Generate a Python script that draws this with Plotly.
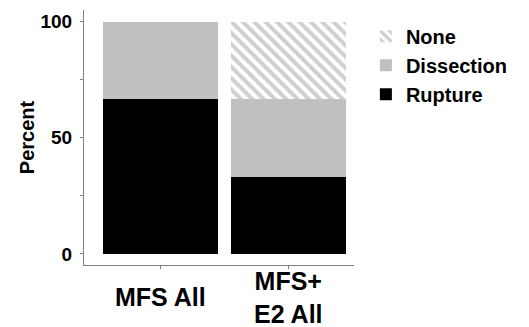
import plotly.graph_objects as go

categories = ["MFS All", "MFS+<br>E2 All"]
rupture = [66.7, 33.3]
dissection = [33.3, 33.3]
none_vals = [0, 33.4]
y_ticks = [0, 50, 100]

FONT = "Liberation Sans, Arial, sans-serif"

fig = go.Figure()
fig.add_trace(go.Bar(x=categories, y=rupture, name="<b>Rupture</b>",
                     marker=dict(color="#000000", line=dict(width=0))))
fig.add_trace(go.Bar(x=categories, y=dissection, name="<b>Dissection</b>",
                     marker=dict(color="#c0c0c0", line=dict(width=0))))
fig.add_trace(go.Bar(x=categories, y=none_vals, name="<b>None</b>",
                     marker=dict(color="#ffffff", line=dict(width=0),
                                 pattern=dict(shape="\\", fgcolor="#a0a0a0",
                                              bgcolor="#ffffff", size=8,
                                              solidity=0.5))))

for c in categories:
    fig.add_annotation(x=c, xref="x", y=-0.127, yref="paper", text="<b>%s</b>" % c,
                       showarrow=False, yanchor="middle", xanchor="center",
                       font=dict(family=FONT, size=25, color="black"))

fig.update_layout(
    width=521, height=319,
    margin=dict(l=76, r=175, t=2, b=62),
    barmode="stack", bargap=0.102,
    plot_bgcolor="white", paper_bgcolor="white",
    font=dict(family=FONT, color="black"),
    showlegend=True,
    legend=dict(x=1.044, y=0.974, xanchor="left", yanchor="top",
                traceorder="reversed", tracegroupgap=0,
                font=dict(family=FONT, size=20, color="black"),
                itemwidth=30),
)
fig.update_xaxes(range=[-0.598, 1.512], showline=True, linecolor="#808080", linewidth=1,
                 ticks="outside", ticklen=3, tickcolor="#808080", showticklabels=False,
                 showgrid=False, zeroline=False, fixedrange=True, automargin=False)
fig.update_yaxes(range=[-4.8, 105], showline=True, linecolor="#808080", linewidth=1,
                 tickvals=y_ticks, ticktext=["<b>%d</b>" % v for v in y_ticks],
                 ticks="outside", ticklen=3, tickcolor="#808080", ticklabelstandoff=4,
                 tickfont=dict(family=FONT, size=19, color="black"),
                 minor=dict(tickvals=[25, 75], ticks="outside", ticklen=3, tickcolor="#808080"),
                 title=dict(text="<b>Percent</b>", font=dict(family=FONT, size=20, color="black"),
                            standoff=0),
                 showgrid=False, zeroline=False, automargin=False)

fig.write_html("out.html")
